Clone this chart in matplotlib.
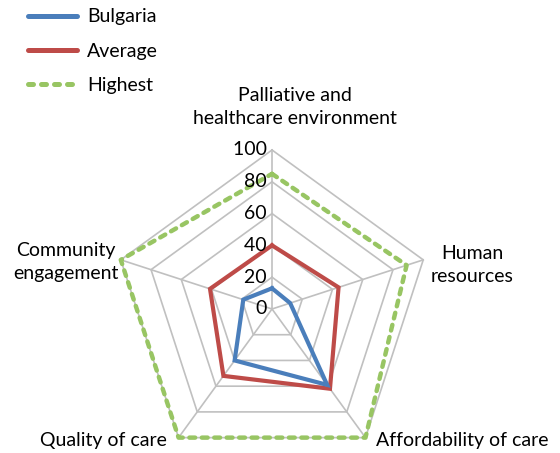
import numpy as np
import matplotlib
matplotlib.use("Agg")
import matplotlib.pyplot as plt

plt.rcParams["font.family"] = ["Lato", "DejaVu Sans"]

CATEGORIES = [
    "Palliative and\nhealthcare environment",
    "Human\nresources",
    "Affordability of care",
    "Quality of care",
    "Community\nengagement",
]
BULGARIA = [13, 12, 59, 40, 19]
AVERAGE = [40, 44, 62, 52, 41]
HIGHEST = [85, 89, 100, 100, 100]
LEVELS = [20, 40, 60, 80, 100]
TICKS = [0, 20, 40, 60, 80, 100]

GRID = "#c0c0c0"

fig = plt.figure(figsize=(5.6, 4.53), dpi=100)
ax = fig.add_axes([0.2018, -0.0331, 0.5679, 0.702], projection="polar")
ax.set_theta_zero_location("N")
ax.set_theta_direction(-1)
ax.set_ylim(0, 100)
ax.grid(False)
ax.spines["polar"].set_visible(False)
ax.set_xticks([])
ax.set_yticks([])
ax.patch.set_visible(False)

n = len(CATEGORIES)
theta = np.arange(n) * 2 * np.pi / n
theta_c = np.append(theta, theta[0])

for lv in LEVELS:
    ax.plot(theta_c, [lv] * (n + 1), color=GRID, lw=1.2, clip_on=False, zorder=1)
for t in theta:
    ax.plot([t, t], [0, 100], color=GRID, lw=1.2, clip_on=False, zorder=1)

def closed(v):
    return v + v[:1]

ax.plot(theta_c, closed(BULGARIA), color="#4a7ebb", lw=3.0, label="Bulgaria",
        clip_on=False, zorder=4, solid_joinstyle="miter")
ax.plot(theta_c, closed(AVERAGE), color="#be4b48", lw=3.0, label="Average",
        clip_on=False, zorder=3, solid_joinstyle="miter")
ax.plot(theta_c, closed(HIGHEST), color="#98c563", lw=3.2, label="Highest",
        linestyle=(0, (1.3, 1.5)), dash_capstyle="round", clip_on=False, zorder=2)

for tk in TICKS:
    ax.text(0, tk, f"{tk} ", ha="right", va="center", fontsize=14,
            color="#000000", zorder=5)

label_pos = [
    (0.527, 0.764),
    (0.843, 0.415),
    (0.825, 0.027),
    (0.185, 0.027),
    (0.117, 0.421),
]
for (x, y), lab in zip(label_pos, CATEGORIES):
    fig.text(x, y, lab, ha="center", va="center", fontsize=14, linespacing=1.45)

leg = fig.legend(loc="upper left", bbox_to_anchor=(0.018, 1.02), frameon=False,
                 fontsize=14, handlelength=2.55, labelspacing=0.88, handletextpad=0.5)
for line in leg.get_lines():
    line.set_linewidth(3.6)
    line.set_solid_capstyle("round")
leg.get_lines()[2].set_linestyle((0, (1.0, 1.6)))

fig.savefig("out.png", dpi=100)
